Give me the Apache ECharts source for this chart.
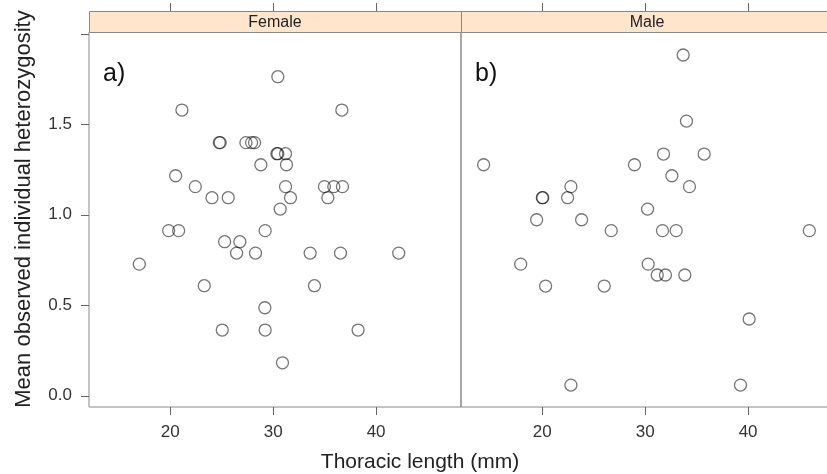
<!DOCTYPE html>
<html>
<head>
<meta charset="utf-8">
<script src="https://cdn.jsdelivr.net/npm/echarts@6/dist/echarts.min.js"></script>
<style>
html,body{margin:0;padding:0;background:#fff;overflow:hidden;width:827px;height:474px;}
#chart{width:836px;height:474px;}
</style>
</head>
<body>
<div id="chart"></div>
<script>
// ---- data ----
const panels = ["Female", "Male"];
const panelTags = ["a)", "b)"];
const femaleX = [30.45, 21.13, 36.67, 24.76, 24.85, 27.35, 27.9, 28.19, 30.36, 30.45, 31.2, 28.8, 31.29, 20.52, 22.43, 31.2, 34.98, 35.89, 36.73, 24.05, 25.63, 31.68, 35.31, 30.68, 19.84, 20.81, 29.22, 25.28, 26.76, 26.44, 28.28, 33.59, 36.54, 42.2, 16.99, 23.3, 34.01, 29.19, 25.05, 29.22, 38.25, 30.9];
const femaleY = [1.762, 1.578, 1.578, 1.398, 1.398, 1.398, 1.398, 1.398, 1.337, 1.337, 1.337, 1.276, 1.276, 1.215, 1.155, 1.155, 1.155, 1.155, 1.155, 1.094, 1.094, 1.094, 1.094, 1.031, 0.912, 0.912, 0.912, 0.851, 0.851, 0.788, 0.788, 0.788, 0.788, 0.788, 0.727, 0.608, 0.608, 0.486, 0.363, 0.363, 0.363, 0.182];
const maleX = [33.69, 34.01, 31.78, 35.73, 14.3, 28.96, 32.59, 22.78, 34.3, 20.0, 20.05, 22.46, 30.23, 19.45, 23.82, 26.7, 31.68, 33.01, 45.95, 17.9, 30.29, 31.17, 31.97, 33.85, 20.32, 26.02, 40.1, 22.78, 39.26];
const maleY = [1.882, 1.517, 1.335, 1.335, 1.276, 1.276, 1.215, 1.155, 1.155, 1.094, 1.094, 1.094, 1.031, 0.972, 0.972, 0.912, 0.912, 0.912, 0.912, 0.727, 0.727, 0.667, 0.667, 0.667, 0.606, 0.606, 0.424, 0.059, 0.059];
const xTicks = [20, 30, 40];
const yTicks = [0, 0.5, 1.0, 1.5, 2.0];
const yLabels = [0, 0.5, 1.0, 1.5];
const xTitle = "Thoracic length (mm)";
const yTitle = "Mean observed individual heterozygosity";

// ---- chart ----
const FONT = "Liberation Sans, Arial, sans-serif";
const xMin = 12.1, xMax = 48.25, yMin = -0.062, yMax = 2.009;
const gridLeft = [89, 461], panelW = 372, panelTop = 32, panelH = 375;
const stripH = 21, tickLen = 8;
const tickStyle = { color: '#666', width: 1 };

const grids = gridLeft.map(l => ({
  left: l, top: panelTop, width: panelW, height: panelH,
  show: true, borderColor: '#888', borderWidth: 1, backgroundColor: 'transparent'
}));

const xAxes = [];
const yAxes = [];
[0, 1].forEach(i => {
  xAxes.push({
    type: 'value', gridIndex: i, min: xMin, max: xMax, position: 'bottom',
    axisLine: { show: false }, splitLine: { show: false }, axisTick: { show: false },
    axisLabel: { show: true, customValues: xTicks, color: '#333', fontSize: 17, fontFamily: FONT, margin: 17 }
  });
  xAxes.push({
    type: 'value', gridIndex: i, min: xMin, max: xMax, position: 'top', offset: stripH,
    axisLine: { show: false }, splitLine: { show: false },
    axisTick: { show: true, inside: false, length: tickLen, customValues: xTicks, lineStyle: tickStyle },
    axisLabel: { show: false }
  });
  yAxes.push({
    type: 'value', gridIndex: i, min: yMin, max: yMax, position: 'left',
    axisLine: { show: false }, splitLine: { show: false }, axisTick: { show: false },
    axisLabel: { show: i === 0, customValues: yLabels, color: '#333', fontSize: 17, fontFamily: FONT, margin: 17,
                 formatter: v => Number(v).toFixed(1) }
  });
});

function pairs(xs, ys) { return xs.map((x, k) => [x, ys[k]]); }

const seriesStyle = {
  type: 'scatter', symbol: 'circle', symbolSize: 12,
  itemStyle: { color: 'rgba(255,255,255,0)', borderColor: 'rgba(0,0,0,0.68)', borderWidth: 1.3 },
  emphasis: { disabled: true }, silent: true
};

const series = [
  Object.assign({}, seriesStyle, { name: panels[0], xAxisIndex: 0, yAxisIndex: 0, data: pairs(femaleX, femaleY) }),
  Object.assign({}, seriesStyle, { name: panels[1], xAxisIndex: 2, yAxisIndex: 1, data: pairs(maleX, maleY) })
];

const graphic = [];
[0, 1].forEach(i => {
  graphic.push({
    type: 'rect', left: gridLeft[i], top: panelTop - stripH, silent: true, z: 10,
    shape: { x: 0, y: 0, width: panelW, height: stripH },
    style: { fill: '#ffe5cc', stroke: '#888', lineWidth: 1 }
  });
  graphic.push({
    type: 'text', x: gridLeft[i] + panelW / 2, y: panelTop - stripH / 2 + 1, silent: true, z: 11,
    style: { text: panels[i], fill: '#222', font: '16px ' + FONT, textAlign: 'center', textVerticalAlign: 'middle' }
  });
  graphic.push({
    type: 'text', x: gridLeft[i] + 14, y: 74, silent: true, z: 11,
    style: { text: panelTags[i], fill: '#111', font: '25px ' + FONT, textAlign: 'left', textVerticalAlign: 'middle' }
  });
});
graphic.push({
  type: 'text', x: 420, y: 462, silent: true,
  style: { text: xTitle, fill: '#222', font: '21px ' + FONT, textAlign: 'center', textVerticalAlign: 'middle' }
});
graphic.push({
  type: 'text', x: 24, y: 209, rotation: Math.PI / 2, silent: true,
  style: { text: yTitle, fill: '#222', font: '22px ' + FONT, textAlign: 'center', textVerticalAlign: 'middle' }
});

const chart = echarts.init(document.getElementById('chart'), null, { renderer: 'canvas' });
chart.setOption({
  animation: false,
  backgroundColor: '#fff',
  grid: grids,
  xAxis: xAxes,
  yAxis: yAxes,
  series: series,
  graphic: graphic
});

// outward ticks on left and bottom, placed through the axes' own scales
const tickGraphics = graphic.slice();
const panelBottom = panelTop + panelH;
yTicks.forEach(v => {
  const py = Math.round(chart.convertToPixel({ yAxisIndex: 0 }, v)) + 0.5;
  tickGraphics.push({
    type: 'line', silent: true,
    shape: { x1: gridLeft[0] - tickLen, y1: py, x2: gridLeft[0], y2: py },
    style: { stroke: tickStyle.color, lineWidth: 1 }
  });
});
[0, 2].forEach(ax => {
  xTicks.forEach(v => {
    const px = Math.round(chart.convertToPixel({ xAxisIndex: ax }, v)) + 0.5;
    tickGraphics.push({
      type: 'line', silent: true,
      shape: { x1: px, y1: panelBottom, x2: px, y2: panelBottom + tickLen },
      style: { stroke: tickStyle.color, lineWidth: 1 }
    });
  });
});
chart.setOption({ graphic: tickGraphics });
</script>
</body>
</html>
